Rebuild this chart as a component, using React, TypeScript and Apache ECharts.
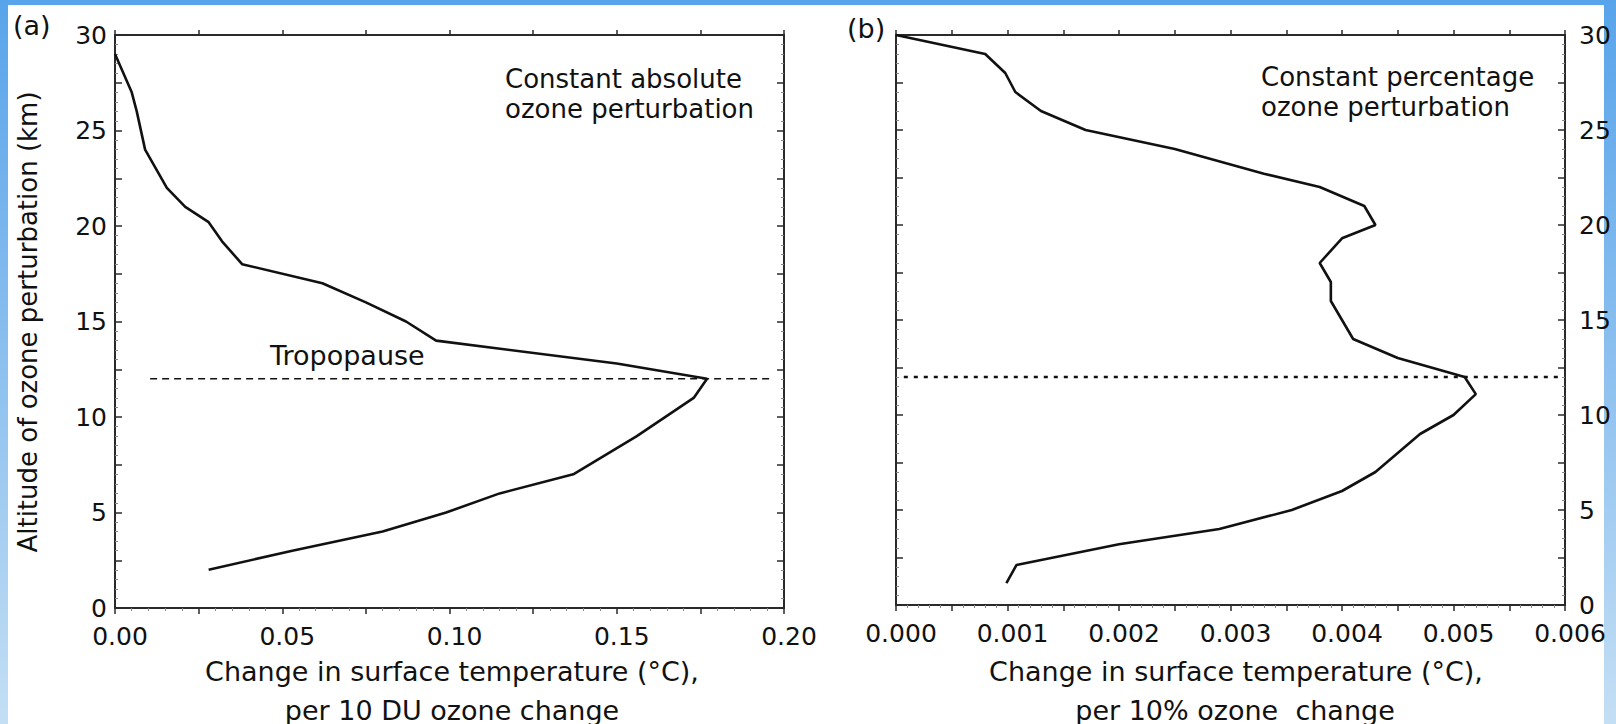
import React, { useEffect, useRef } from "react";
import * as echarts from "echarts";

// ---------- data ----------
// Panel (a): constant absolute ozone perturbation
const altitudeA = [2, 3, 4, 5, 6, 7, 9, 11, 12, 12.8, 14, 15, 16, 17, 18, 19.2, 20.2, 21, 22, 24, 26, 27, 29];
const tempChangeA = [0.028, 0.053, 0.08, 0.099, 0.115, 0.137, 0.156, 0.173, 0.177, 0.15, 0.096, 0.087, 0.075, 0.062, 0.038, 0.032, 0.028, 0.021, 0.0155, 0.009, 0.0065, 0.005, 0.0];

// Panel (b): constant percentage ozone perturbation
const altitudeB = [1.15, 2.1, 3.2, 4, 5, 6, 7, 8, 9, 10, 11.1, 12, 13, 14, 15, 16, 17, 18, 19.3, 20, 21, 22, 22.7, 24, 25, 26, 27, 28, 29, 30];
const tempChangeB = [0.00099, 0.00108, 0.002, 0.0029, 0.00355, 0.004, 0.0043, 0.0045, 0.0047, 0.005, 0.0052, 0.0051, 0.0045, 0.0041, 0.004, 0.0039, 0.0039, 0.0038, 0.004, 0.0043, 0.0042, 0.0038, 0.0033, 0.0025, 0.0017, 0.0013, 0.00107, 0.00098, 0.0008, 0.0];

// Tropopause line
const tropopauseAltitude = 12;
const tropopauseSpanA = [0.0105, 0.196];
const tropopauseSpanB = [0.00007, 0.00596];

// Axis ticks
const xTicksA = [0, 0.05, 0.1, 0.15, 0.2];
const xTicksB = [0, 0.001, 0.002, 0.003, 0.004, 0.005, 0.006];
const yTicks = [0, 5, 10, 15, 20, 25, 30];

const FONT = "DejaVu Sans";
const AXIS = "#2a2a2a";
const INK = "#111";

const isTick = (arr: number[], v: number) => arr.some((t) => Math.abs(t - v) < 1e-9);

function xBottom(gridIndex: number, ticks: number[], step: number, decimals: number) {
  return {
    type: "value",
    gridIndex,
    position: "bottom",
    min: 0,
    max: ticks[ticks.length - 1],
    interval: step,
    axisLine: { show: true, onZero: false, lineStyle: { color: AXIS, width: 2 } },
    axisTick: { show: true, inside: false, length: 6, lineStyle: { color: AXIS, width: 1.5 } },
    minorTick: { show: true, splitNumber: 5, length: 3, lineStyle: { color: "#888", width: 1 } },
    splitLine: { show: false },
    axisLabel: {
      show: true,
      margin: 16,
      fontFamily: FONT,
      fontSize: 25,
      lineHeight: 25,
      color: INK,
      padding: [0, 0, 0, 10],
      formatter: (v: number) => (isTick(ticks, v) ? v.toFixed(decimals) : ""),
    },
  };
}

function xTop(gridIndex: number, ticks: number[], step: number) {
  return {
    type: "value",
    gridIndex,
    position: "top",
    min: 0,
    max: ticks[ticks.length - 1],
    interval: step,
    axisLine: { show: true, onZero: false, lineStyle: { color: AXIS, width: 2 } },
    axisTick: { show: true, inside: false, length: 5, lineStyle: { color: AXIS, width: 1.5 } },
    axisLabel: { show: false },
    splitLine: { show: false },
  };
}

function yAxis(gridIndex: number, position: "left" | "right", labels: boolean, margin: number) {
  return {
    type: "value",
    gridIndex,
    position,
    min: 0,
    max: 30,
    interval: 2.5,
    axisLine: { show: true, onZero: false, lineStyle: { color: AXIS, width: 2 } },
    axisTick: { show: true, inside: true, length: 7, lineStyle: { color: AXIS, width: 1.5 } },
    minorTick: { show: true, splitNumber: 5, length: 3, lineStyle: { color: "#888", width: 1 } },
    splitLine: { show: false },
    axisLabel: {
      show: labels,
      margin,
      fontFamily: FONT,
      fontSize: 25,
      color: INK,
      formatter: (v: number) => (isTick(yTicks, v) ? String(v) : ""),
    },
  };
}

function txt(text: string, x: number, y: number, size = 27, align = "left", rotation = 0, lineHeight = 24) {
  return {
    type: "text",
    x,
    y,
    rotation,
    style: {
      text,
      fontFamily: FONT,
      fontSize: size,
      lineHeight,
      fill: INK,
      align,
      verticalAlign: "middle",
    },
  };
}

const option = {
  animation: false,
  backgroundColor: "transparent",
  grid: [
    { left: 115, top: 35, width: 669, height: 573 },
    { left: 896, top: 35, width: 669, height: 570 },
  ],
  xAxis: [
    xBottom(0, xTicksA, 0.025, 2),
    xTop(0, xTicksA, 0.025),
    xBottom(1, xTicksB, 0.0005, 3),
    xTop(1, xTicksB, 0.0005),
  ],
  yAxis: [
    yAxis(0, "left", true, 8),
    yAxis(0, "right", false, 8),
    yAxis(1, "left", false, 8),
    yAxis(1, "right", true, 14),
  ],
  series: [
    {
      type: "line",
      xAxisIndex: 0,
      yAxisIndex: 0,
      showSymbol: false,
      data: altitudeA.map((a, i) => [tempChangeA[i], a]),
      lineStyle: { color: INK, width: 2.6 },
      z: 3,
    },
    {
      type: "line",
      xAxisIndex: 0,
      yAxisIndex: 0,
      showSymbol: false,
      data: tropopauseSpanA.map((x) => [x, tropopauseAltitude]),
      lineStyle: { color: INK, width: 1.6, type: [7, 5] },
    },
    {
      type: "line",
      xAxisIndex: 2,
      yAxisIndex: 2,
      showSymbol: false,
      data: altitudeB.map((a, i) => [tempChangeB[i], a]),
      lineStyle: { color: INK, width: 2.6 },
      z: 3,
    },
    {
      type: "line",
      xAxisIndex: 2,
      yAxisIndex: 2,
      showSymbol: false,
      data: tropopauseSpanB.map((x) => [x, tropopauseAltitude]),
      lineStyle: { color: INK, width: 2.6, type: [4, 6] },
    },
  ],
  graphic: [
    txt("(a)", 13, 25),
    txt("(b)", 847, 28),
    txt("Constant absolute\nozone perturbation", 505, 94, 26, "left", 0, 30.5),
    txt("Constant percentage\nozone perturbation", 1261, 92, 26, "left", 0, 30.5),
    txt("Tropopause", 270, 355),
    txt("Altitude of ozone perturbation (km)", 28, 322, 26, "center", Math.PI / 2),
    txt("Change in surface temperature (°C),", 452, 671, 27, "center"),
    txt("per 10 DU ozone change", 452, 710, 27, "center"),
    txt("Change in surface temperature (°C),", 1236, 671, 27, "center"),
    txt("per 10% ozone  change", 1235, 710, 27, "center"),
  ],
};

export default function App() {
  const ref = useRef<HTMLDivElement>(null);
  useEffect(() => {
    if (!ref.current) return;
    const chart = echarts.init(ref.current, null, { renderer: "svg", width: 1616, height: 724 });
    chart.setOption(option as any);
    return () => chart.dispose();
  }, []);
  return (
    <div
      style={{
        position: "fixed",
        left: 0,
        top: 0,
        width: 1616,
        height: 724,
        overflow: "hidden",
        background: "linear-gradient(180deg, #58a4ea 0%, #8cc0ef 50%, #c4dff4 100%)",
      }}
    >
      <div style={{ position: "absolute", left: 8, top: 5, width: 1596, height: 719, background: "#ffffff" }} />
      <div ref={ref} style={{ position: "absolute", left: 0, top: 0, width: 1616, height: 724 }} />
    </div>
  );
}
